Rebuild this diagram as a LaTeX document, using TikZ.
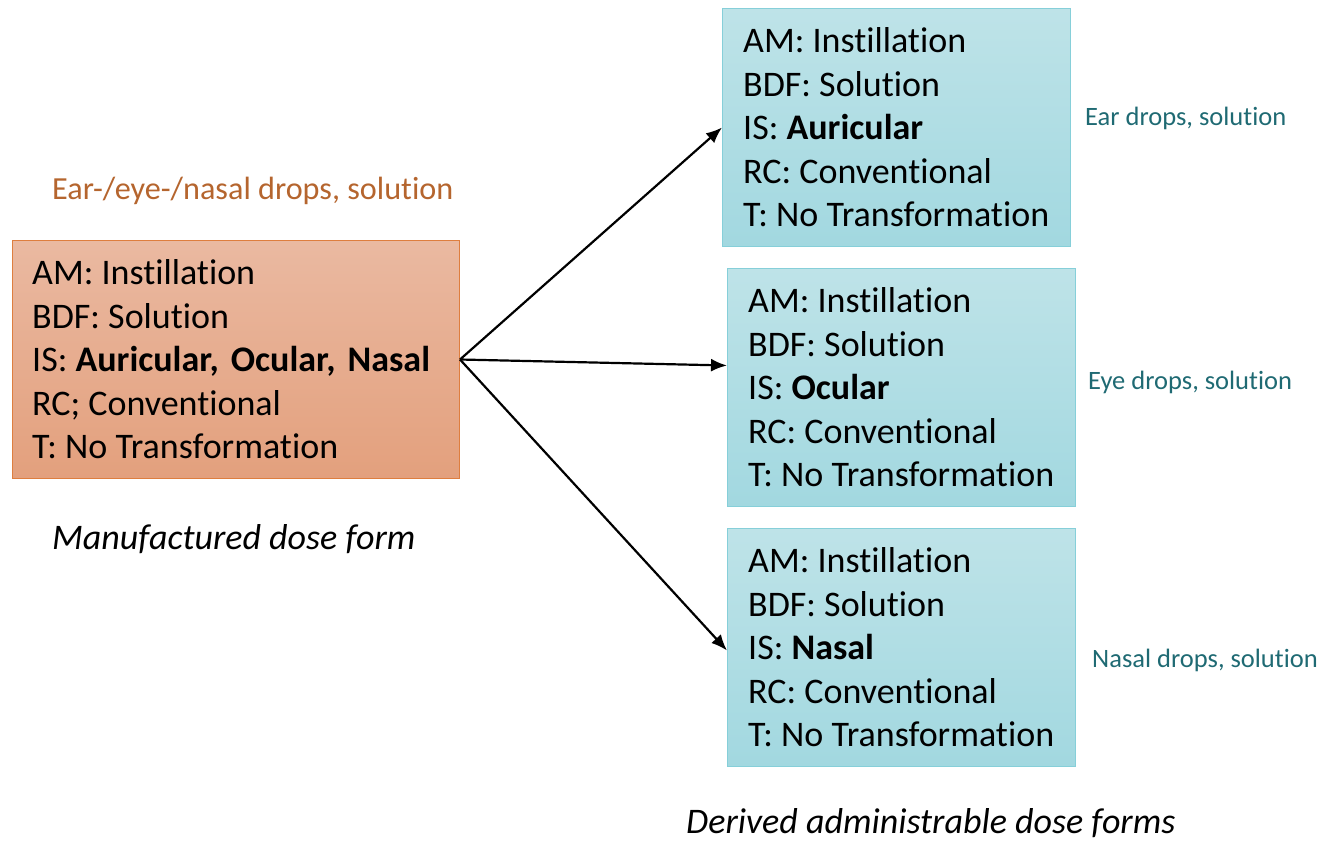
\documentclass[tikz,border=0pt]{standalone}
\usepackage{fontspec}
\setmainfont{Carlito}[Ligatures=NoCommon]
\usetikzlibrary{arrows.meta}
\definecolor{orangeTop}{HTML}{EAB9A1}
\definecolor{orangeBot}{HTML}{E3A07D}
\definecolor{orangeLine}{HTML}{DE7E3F}
\definecolor{blueTop}{HTML}{BEE3E8}
\definecolor{blueBot}{HTML}{A2D8E0}
\definecolor{blueLine}{HTML}{86CFD9}
\definecolor{labelOrange}{HTML}{B5652E}
\definecolor{labelTeal}{HTML}{1F6A73}
\tikzset{
  x=1pt, y=-1pt,
  formbox/.style={rectangle, anchor=north west, minimum width=348pt, minimum height=238pt,
    inner sep=0pt, line width=1pt},
  mdf/.style={formbox, top color=orangeTop, bottom color=orangeBot, draw=orangeLine,
    minimum width=447pt},
  adf/.style={formbox, top color=blueTop, bottom color=blueBot, draw=blueLine},
  boxtext/.style={anchor=west, inner sep=0pt, align=left,
    font=\fontsize{36}{43.5}\selectfont},
  tealnote/.style={anchor=west, text=labelTeal, inner sep=0pt, font=\fontsize{26.5}{30}\selectfont},
  caption/.style={inner sep=0pt, font=\fontsize{36}{40}\selectfont\itshape},
  link/.style={-{Latex[length=16pt,width=13pt]}, line width=2.2pt}
}
\begin{document}
\frenchspacing
\begin{tikzpicture}
\useasboundingbox (0,0) rectangle (1320,841);

% manufactured dose form
\node[mdf] (mdf) at (12,240) {};
\node[boxtext] (mdftext) at ([xshift=20pt]mdf.west) {AM: Instillation\\BDF: Solution\\IS: \textbf{Auricular,\hspace{12pt}Ocular,\hspace{12pt}Nasal}\\RC; Conventional\\T: No Transformation};
\node[anchor=west, inner sep=0pt, text=labelOrange, font=\fontsize{32.2}{36}\selectfont] (mdfname) at (52,191) {Ear-/eye-/nasal drops, solution};
\node[caption, anchor=west] (mdfcap) at (52,539) {Manufactured dose form};

% derived administrable dose forms
\node[adf] (ear) at (722,8) {};
\node[boxtext] (eartext) at ([xshift=21pt]ear.west) {AM: Instillation\\BDF: Solution\\IS: \textbf{Auricular}\\RC: Conventional\\T: No Transformation};
\node[adf] (eye) at (727,268) {};
\node[boxtext] (eyetext) at ([xshift=21pt]eye.west) {AM: Instillation\\BDF: Solution\\IS: \textbf{Ocular}\\RC: Conventional\\T: No Transformation};
\node[adf] (nasal) at (727,528) {};
\node[boxtext] (nasaltext) at ([xshift=21pt]nasal.west) {AM: Instillation\\BDF: Solution\\IS: \textbf{Nasal}\\RC: Conventional\\T: No Transformation};

\node[tealnote] (earname) at (1085,118) {Ear drops, solution};
\node[tealnote] (eyename) at (1088,382) {Eye drops, solution};
\node[tealnote] (nasalname) at (1092,660) {Nasal drops, solution};
\node[caption, anchor=west] (adfcap) at (686,823) {Derived administrable dose forms};

% links
\draw[link] (mdf.east) -- (ear.west);
\draw[link] (mdf.east) -- ([yshift=22pt]eye.west);
\draw[link] (mdf.east) -- ([yshift=-3pt]nasal.west);
\end{tikzpicture}
\end{document}
